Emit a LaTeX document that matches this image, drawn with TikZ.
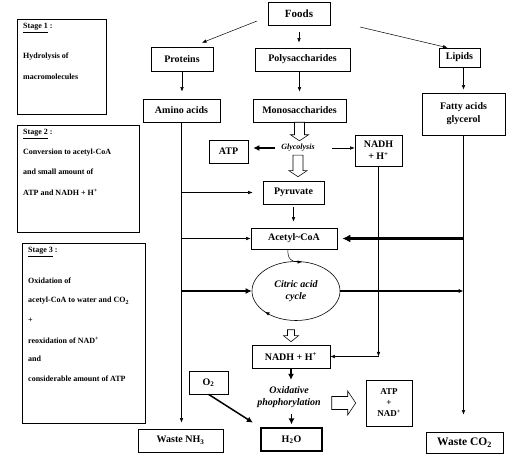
\documentclass[tikz,border=0pt]{standalone}
\usepackage{fontspec}
\setmainfont{Liberation Serif}
\usetikzlibrary{arrows.meta,calc,shapes.geometric}
\newcommand\downblock[4]{\draw[hollow] let \p1=#1, \p2=#2 in
  (\x1-#3,\y1) -- (\x1+#3,\y1) -- (\x1+#3,\y2+6pt) -- (\x1+#4,\y2+6pt) -- (\x1,\y2)
  -- (\x1-#4,\y2+6pt) -- (\x1-#3,\y2+6pt) -- cycle;}
\newcommand\rightblock[4]{\draw[hollow] let \p1=#1, \p2=#2 in
  (\x1,\y1+#3) -- (\x2-8pt,\y1+#3) -- (\x2-8pt,\y1+#4) -- (\x2,\y1) -- (\x2-8pt,\y1-#4)
  -- (\x2-8pt,\y1-#3) -- (\x1,\y1-#3) -- cycle;}
\begin{document}
\begin{tikzpicture}[x=1pt,y=-1pt,
  box/.style={draw, line width=0.6pt, font=\bfseries\fontsize{10}{12}\selectfont, inner sep=0pt, align=center},
  stagebox/.style={draw, line width=0.6pt, anchor=north west, inner sep=0pt},
  stagetxt/.style={anchor=west, inner sep=0pt, font=\bfseries\fontsize{8}{10}\selectfont},
  itxt/.style={inner sep=0pt, align=center, font=\bfseries\itshape\fontsize{10}{11.5}\selectfont},
  conn/.style={line width=0.5pt, -{Latex[length=4.5pt,width=3.5pt]}},
  thickconn/.style={line width=1.8pt, -{Latex[length=6pt,width=6pt]}},
  hollow/.style={draw, line width=0.6pt, fill=white},
]
\useasboundingbox (0,0) rectangle (507,454);

% stage boxes
\node[stagebox, minimum width=89pt, minimum height=95pt] (stage1) at (17,19) {};
\node[stagebox, minimum width=122pt, minimum height=107pt] (stage2) at (17,125) {};
\node[stagebox, minimum width=123pt, minimum height=180pt] (stage3) at (22,243) {};

\node[stagetxt] (s1a) at (23,28) {\underline{Stage 1} :};
\node[stagetxt] (s1b) at (23,57) {Hydrolysis of};
\node[stagetxt] (s1c) at (23,77) {macromolecules};

\node[stagetxt] (s2a) at (23,134) {\underline{Stage 2} :};
\node[stagetxt] (s2b) at (23,153) {Conversion to acetyl-CoA};
\node[stagetxt] (s2c) at (23,172) {and small amount of};
\node[stagetxt] (s2d) at (23,192) {ATP and NADH + H\textsuperscript{+}};

\node[stagetxt] (s3a) at (28,252) {\underline{Stage 3} :};
\node[stagetxt] (s3b) at (28,281) {Oxidation of};
\node[stagetxt] (s3c) at (28,301) {acetyl-CoA to water and CO\textsubscript{2}};
\node[stagetxt] (s3d) at (28,320) {+};
\node[stagetxt] (s3e) at (28,340) {reoxidation of NAD\textsuperscript{+}};
\node[stagetxt] (s3f) at (28,359) {and};
\node[stagetxt] (s3g) at (28,379) {considerable amount of ATP};

% main boxes
\node[box, minimum width=62pt, minimum height=23pt, font=\bfseries\fontsize{11}{13}\selectfont] (foods) at (299,13.5) {Foods};
\node[box, minimum width=62pt, minimum height=24pt] (proteins) at (182,59) {Proteins};
\node[box, minimum width=95pt, minimum height=23pt] (poly) at (302.5,59.5) {Polysaccharides};
\node[box, minimum width=41pt, minimum height=19pt] (lipids) at (459.5,57.5) {Lipids};
\node[box, minimum width=77pt, minimum height=23pt] (amino) at (181.5,110.5) {Amino acids};
\node[box, minimum width=93pt, minimum height=23pt] (mono) at (299.5,110.5) {Monosaccharides};
\node[box, minimum width=83pt, minimum height=42pt] (fatty) at (463.5,114) {Fatty acids\\[1pt]glycerol};
\node[box, minimum width=39pt, minimum height=23pt] (atp) at (228.5,151.5) {ATP};
\node[box, minimum width=47pt, minimum height=31pt] (nadh1) at (378.5,150.5) {NADH\\+ H\textsuperscript{+}};
\node[inner sep=0pt, minimum height=14pt, font=\bfseries\itshape\fontsize{8}{10}\selectfont] (glyc) at (298,148) {Glycolysis};
\node[box, minimum width=61pt, minimum height=23pt] (pyr) at (293.5,192.5) {Pyruvate};
\node[box, minimum width=86pt, minimum height=21pt] (acetyl) at (294,238.5) {Acetyl\textasciitilde CoA};
\node[draw, line width=0.6pt, ellipse, inner sep=0pt, minimum width=88pt, minimum height=59pt, itxt] (cycle) at (296,291) {Citric acid\\cycle};
\node[box, minimum width=78pt, minimum height=23pt] (nadh2) at (291,356.5) {NADH + H\textsuperscript{+}};
\node[itxt, minimum height=34pt] (oxphos) at (289,397) {Oxidative\\phophorylation};
\node[box, minimum width=61pt, minimum height=23pt, line width=1.1pt] (h2o) at (291.5,439.5) {H\textsubscript{2}O};
\node[box, minimum width=46pt, minimum height=46pt, font=\bfseries\fontsize{9}{11}\selectfont] (atpnad) at (389,403) {ATP\\+\\NAD\textsuperscript{+}};
\node[box, minimum width=77pt, minimum height=21pt, font=\bfseries\fontsize{11.5}{13}\selectfont] (co2) at (464.5,442.5) {Waste CO\textsubscript{2}};
\node[box, minimum width=39pt, minimum height=23pt] (o2) at (208.5,382.5) {O\textsubscript{2}};
\node[box, minimum width=85pt, minimum height=23pt] (nh3) at (180.5,440.5) {Waste NH\textsubscript{3}};

% stage 1 connectors
\coordinate (fp) at (257,21);
\coordinate (fl) at (360,27);
\draw[conn] (fp) -- ([shift={(20,-4)}]proteins.north);
\draw[conn] (fl) -- ([shift={(-12,0)}]lipids.north);
\draw[conn, shorten <=7pt, shorten >=5pt] (foods.south) -- (foods.south |- poly.north);
\draw[conn, shorten >=7pt] (proteins.south) -- (proteins.south |- amino.north);
\draw[conn, shorten >=7pt] (poly.south -| mono.north) -- (mono.north);
\draw[conn, shorten >=3pt] (lipids.south -| fatty.north) -- (fatty.north);

% amino acids line
\draw[conn, shorten >=6pt] (amino.south) -- (amino.south |- nh3.north);
\draw[conn, shorten >=10pt] (amino.south |- pyr.west) -- (pyr.west);
\draw[conn] (amino.south |- acetyl.west) -- (acetyl.west);
\draw[thickconn, line width=1.5pt] (amino.south |- cycle.west) -- (cycle.west);

% glycolysis
\downblock{(mono.south)}{(mono.south |- glyc.north)}{5pt}{9pt}
\downblock{(glyc.south)}{([yshift=4pt]glyc.south |- pyr.north)}{5pt}{9pt}
\draw[thickconn, shorten >=5pt, shorten <=6pt] (glyc.west) -- (glyc.west -| atp.east);
\draw[conn, shorten <=17pt] (glyc.east) -- (glyc.east -| nadh1.west);
\draw[conn, shorten <=3pt, shorten >=6pt] (pyr.south) -- (pyr.south |- acetyl.north);

% fatty acids line
\draw[conn, shorten >=17pt] (fatty.south) -- (fatty.south |- co2.north);
\draw[line width=2.6pt, -{Latex[length=8pt,width=8pt]}, shorten >=5pt] (fatty.south |- acetyl.east) -- (acetyl.east);
\draw[line width=1.5pt, -{Latex[length=5pt,width=4.5pt]}] (cycle.east) -- (cycle.east -| fatty.south);

% citric acid cycle
\coordinate (ac1) at (288,249);
\coordinate (ac2) at (302,262);
\draw[conn] (ac1) .. controls (287,259) and (292,262) .. (ac2);
\coordinate (cy1) at (268.5,313.8);
\coordinate (cy2) at (264.9,311.9);
\draw[conn] (cy1) -- (cy2);
\downblock{($(cycle.south -| nadh2.north)+(0,9)$)}{([yshift=3pt]nadh2.north)}{3.5pt}{7.5pt}

% NADH from glycolysis
\coordinate (nc) at (nadh1.south |- nadh2.east);
\draw[conn] (nadh1.south) -- (nc);
\draw[conn] (nc) -- (nadh2.east);

% oxidative phosphorylation
\draw[thickconn, line width=1.5pt] (nadh2.south) -- (nadh2.south |- oxphos.north);
\draw[thickconn, line width=1.5pt, shorten >=3pt] (oxphos.south -| h2o.north) -- (h2o.north);
\draw[thickconn, line width=1.5pt, shorten >=9pt] (o2.south) -- (h2o.north west);
\rightblock{($(atpnad.west)+(-34,0)$)}{($(atpnad.west)+(-10,0)$)}{6.5pt}{12pt}
\end{tikzpicture}
\end{document}
